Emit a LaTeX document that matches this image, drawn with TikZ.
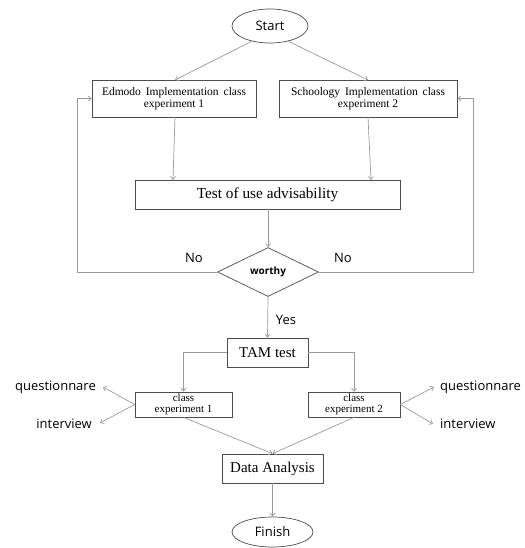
\documentclass[tikz,border=0pt]{standalone}
\usepackage{fontspec}
\setmainfont{Liberation Serif}
\newfontfamily\lblfont{Open Sans}
\usetikzlibrary{shapes.geometric,arrows.meta}
\begin{document}
\begin{tikzpicture}[x=1pt,y=-1pt,
  boxed/.style={draw=black!70,line width=0.7pt,rectangle,inner sep=0pt,align=center},
  oval/.style={draw=black!70,line width=0.7pt,ellipse,inner sep=0pt,font=\lblfont\fontsize{13}{15}\selectfont},
  conn/.style={draw=black!40,line width=0.7pt,-{Straight Barb[length=3pt,width=5pt]}},
  lbl/.style={font=\lblfont\fontsize{13}{15}\selectfont,inner sep=0pt}]
\useasboundingbox (0,0) rectangle (524,548);
\node[oval,minimum width=76pt,minimum height=34pt] (start) at (270,26) {Start};
\node[boxed,minimum width=164pt,minimum height=37pt,font=\fontsize{11.5}{12.5}\selectfont] (edm) at (174,98.5) {\makebox[144pt][s]{Edmodo Implementation class}\\experiment 1};
\node[boxed,minimum width=178pt,minimum height=37pt,font=\fontsize{11.5}{12.5}\selectfont] (sch) at (368,98.5) {\makebox[154pt][s]{Schoology Implementation class}\\experiment 2};
\node[boxed,minimum width=265pt,minimum height=29pt,font=\fontsize{15.3}{17}\selectfont] (test) at (267.5,194.5) {Test of use advisability};
\node[draw=black!70,line width=0.7pt,diamond,aspect=2.06,minimum width=101pt,minimum height=49pt,inner sep=0pt,font=\lblfont\bfseries\fontsize{10}{12}\selectfont] (worthy) at (268,272) {worthy};
\node[boxed,minimum width=81pt,minimum height=29pt,font=\fontsize{15}{17}\selectfont] (tam) at (267.5,352.5) {TAM test};
\node[boxed,minimum width=97pt,minimum height=25pt,font=\fontsize{11}{11.5}\selectfont] (c1) at (183.5,404.5) {class\\experiment 1};
\node[boxed,minimum width=92pt,minimum height=25pt,font=\fontsize{11}{11.5}\selectfont] (c2) at (354,404.5) {class\\experiment 2};
\node[boxed,minimum width=101pt,minimum height=29pt,font=\fontsize{15}{17}\selectfont] (da) at (272.5,468.5) {Data Analysis};
\node[oval,minimum width=81pt,minimum height=30pt] (fin) at (272.5,532) {Finish};
% labels
\node[lbl] (no1) at (194,258) {No};
\node[lbl] (no2) at (343,258) {No};
\node[lbl] (yes) at (286,320) {Yes};
\node[lbl,anchor=east] (q1) at (96,387) {questionnare};
\node[lbl,anchor=east] (i1) at (92,424) {interview};
\node[lbl,anchor=west] (q2) at (440,387) {questionnare};
\node[lbl,anchor=west] (i2) at (440,424) {interview};
\coordinate (q1e) at (103,387);
\coordinate (i1e) at (100,423);
\coordinate (q2e) at (434,387);
\coordinate (i2e) at (433,424);
% connectors
\draw[conn] (start.220) -- (175,80);
\draw[conn] (start.-40) -- (368,80);
\draw[conn] (175,117) -- (173,180);
\draw[conn] (368,117) -- (371,180);
\draw[conn] (test.south -| worthy.north) -- (worthy.north);
\draw[conn] (worthy.west) -- (77,272) |- (edm.west);
\draw[conn] (worthy.east) -- (473,272) |- (sch.east);
\draw[conn] (worthy.south) -- (tam.north);
\draw[conn] (tam.west) -| (c1.north);
\draw[conn] (tam.east) -| (c2.north);
\draw[conn] (c1.west) -- (q1e);
\draw[conn] (c1.west) -- (i1e);
\draw[conn] (c2.east) -- (q2e);
\draw[conn] (c2.east) -- (i2e);
\draw[conn] (c1.south) -- (da.north);
\draw[conn] (c2.south) -- (da.north);
\draw[conn] (da.south) -- (fin.north);
\end{tikzpicture}
\end{document}
